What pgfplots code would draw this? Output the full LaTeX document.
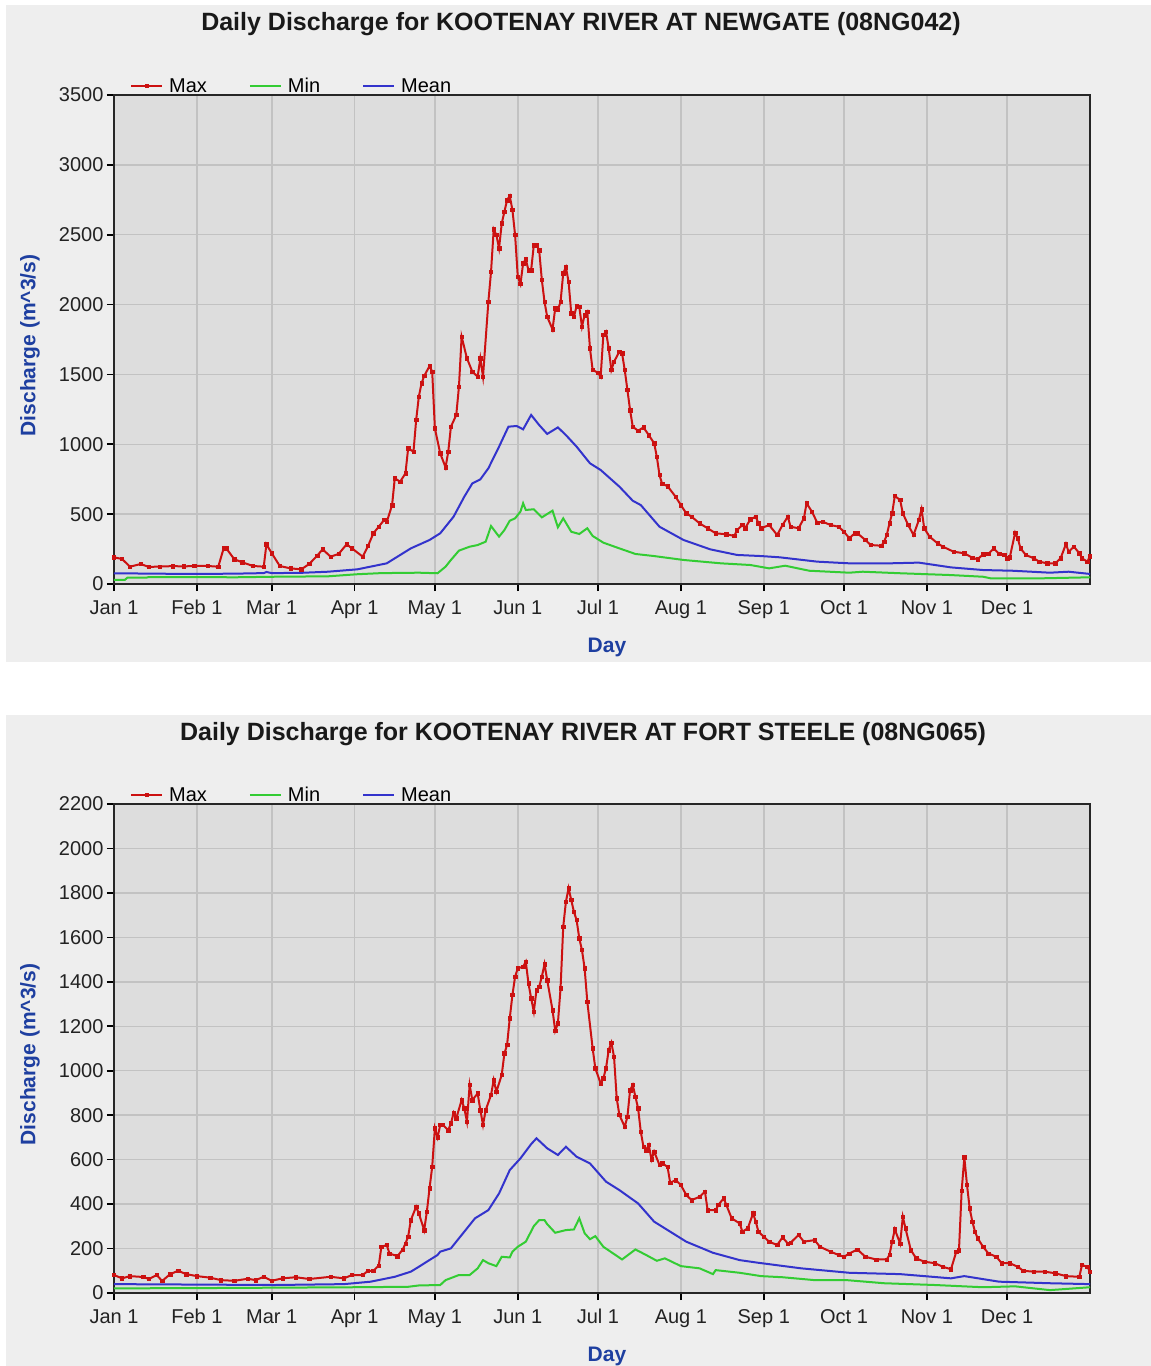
\documentclass[border=0pt]{standalone}
\usepackage{pgfplots}
\pgfplotsset{compat=1.18}
\usepackage{fontspec}
\setmainfont{Liberation Sans}
\definecolor{panelbg}{HTML}{EEEEEE}
\definecolor{plotbg}{HTML}{DDDDDD}
\definecolor{gridc}{HTML}{C2C2C2}
\definecolor{cmax}{HTML}{CC1111}
\definecolor{cmin}{HTML}{33CC33}
\definecolor{cmean}{HTML}{3333CC}
\definecolor{lblue}{HTML}{1E3FA0}
\definecolor{tickc}{HTML}{222222}

\pgfplotsset{
  kootstyle/.style={
    scale only axis, width=976pt, height=489pt,
    anchor=south west,
    xmin=0, xmax=365, ymin=0,
    xtick={0,31,59,90,120,151,181,212,243,273,304,334},
    xticklabels={Jan 1,Feb 1,Mar 1,Apr 1,May 1,Jun 1,Jul 1,Aug 1,Sep 1,Oct 1,Nov 1,Dec 1},
    tick pos=left, tick align=outside, major tick length=7pt,
    tick style={black, line width=1.6pt},
    grid=major, grid style={gridc, line width=1.5pt},
    axis background/.style={fill=plotbg},
    axis line style={black!85, line width=2pt},
    ticklabel style={font=\fontsize{20}{20}\selectfont, text=tickc},
    xticklabel style={yshift=-5pt, text height=15pt, text depth=4pt},
    /pgf/number format/assume math mode=true,
    /pgf/number format/1000 sep={},
    xlabel={Day}, ylabel={Discharge (m\textasciicircum 3/s)},
    every axis x label/.style={at={([xshift=5pt,yshift=-63pt]rel axis cs:0.5,0)}, anchor=center, font=\bfseries\fontsize{21}{21}\selectfont, text=lblue},
    every axis y label/.style={at={([xshift=-84pt,yshift=-6pt]rel axis cs:0,0.5)}, rotate=90, anchor=center, font=\bfseries\fontsize{21}{21}\selectfont, text=lblue},
    legend columns=-1,
    legend image code/.code={\draw[mark repeat=2,mark phase=2,#1] plot coordinates {(0pt,0pt) (15.5pt,0pt) (31pt,0pt)};},
    legend style={draw=none, fill=none, at={(rel axis cs:0,1)}, anchor=south west, xshift=16pt, yshift=1pt,
      font=\fontsize{20}{20}\selectfont, inner sep=0pt,
      nodes={inner xsep=6pt, inner ysep=1pt, text depth=0pt},
      /tikz/every even column/.append style={column sep=36pt}},
    maxst/.style={cmax, line width=2pt, mark=square*, mark size=1.7pt, mark options={fill=cmax, draw=cmax, line width=0.5pt}},
    minst/.style={cmin, line width=2pt, mark=none},
    meanst/.style={cmean, line width=2pt, mark=none},
  }
}

\begin{document}
\begin{tikzpicture}
\useasboundingbox (0pt,0pt) rectangle (1151pt,-1366pt);
\fill[white] (0pt,0pt) rectangle (1151pt,-1366pt);
\fill[panelbg] (6pt,-5pt) rectangle (1151pt,-662pt);
\fill[panelbg] (6pt,-715pt) rectangle (1151pt,-1366pt);
\node[font=\bfseries\fontsize{25}{25}\selectfont, text=black!90] at (581pt,-24pt) {Daily Discharge for KOOTENAY RIVER AT NEWGATE (08NG042)};
\node[font=\bfseries\fontsize{25}{25}\selectfont, text=black!90] at (583pt,-734pt) {Daily Discharge for KOOTENAY RIVER AT FORT STEELE (08NG065)};

% ---------------- top panel ----------------
\begin{axis}[kootstyle, at={(114pt,-584pt)}, ymax=3500, ytick={0,500,...,3500}]
\addplot[maxst] coordinates {
(0,191)(3,179)(6,124)(10,143)(13,122)(17,125)(22,128)(26,126)(30,129)(35,129)(39,124)(41,255)(42,255)(45,177)(48,155)(52,129)(56,124)(57,284)(59,220)(62,129)(66,112)(70,105)(73,143)(76,203)(78,248)(81,196)(84,215)(87,284)(89,255)(93,196)(95,272)(97,363)(99,410)(101,458)(102,444)(104,565)(105,757)(107,732)(109,792)(110,971)(112,947)(113,1174)(114,1341)(115,1436)(116,1489)(118,1560)(119,1520)(120,1114)(122,935)(124,835)(125,947)(126,1126)(128,1210)(129,1412)(130,1770)(132,1615)(134,1520)(136,1484)(137,1615)(138,1484)(140,2020)(141,2235)(142,2538)(143,2498)(144,2402)(145,2581)(146,2665)(147,2748)(148,2777)(149,2677)(150,2498)(151,2199)(152,2147)(153,2295)(154,2324)(155,2247)(156,2247)(157,2426)(158,2426)(159,2390)(160,2176)(161,2020)(162,1913)(164,1823)(165,1973)(166,1961)(167,2020)(168,2224)(169,2267)(170,2164)(171,1937)(172,1913)(173,1990)(174,1985)(175,1842)(176,1925)(177,1949)(178,1687)(179,1532)(181,1512)(182,1484)(183,1782)(184,1806)(185,1687)(186,1532)(187,1591)(189,1663)(190,1651)(191,1532)(192,1389)(193,1245)(194,1126)(196,1097)(198,1121)(200,1066)(202,1007)(203,911)(204,780)(205,716)(207,701)(210,625)(212,565)(214,506)(216,482)(219,434)(222,399)(225,363)(229,356)(232,344)(233,386)(235,422)(236,399)(238,463)(240,482)(241,434)(242,399)(245,422)(248,351)(250,422)(252,482)(253,410)(256,399)(258,470)(259,578)(261,518)(263,439)(265,446)(268,422)(271,410)(273,374)(275,327)(277,363)(278,363)(281,315)(283,279)(287,274)(288,303)(289,351)(290,434)(291,506)(292,630)(294,601)(295,506)(297,422)(299,351)(301,458)(302,535)(303,399)(305,339)(308,291)(310,267)(314,231)(318,220)(321,188)(323,177)(325,213)(327,215)(329,255)(331,215)(333,208)(334,184)(335,191)(337,367)(338,327)(339,255)(341,208)(344,184)(346,160)(349,148)(352,148)(354,184)(356,286)(357,231)(359,267)(361,220)(362,184)(364,160)(365,200)
};
\addlegendentry{Max}
\addplot[minst] coordinates {
(0,29)(4,29)(5,45)(12,45)(13,50)(30,50)(45,48)(60,52)(80,55)(91,70)(100,78)(110,80)(114,81)(121,77)(124,124)(126,172)(129,239)(133,267)(136,279)(139,303)(141,415)(144,339)(146,386)(148,453)(150,470)(152,518)(153,578)(154,530)(157,535)(160,477)(162,501)(164,525)(166,406)(168,470)(171,374)(174,358)(177,399)(179,344)(183,296)(189,255)(195,215)(202,200)(213,172)(227,148)(238,136)(245,112)(251,131)(260,95)(275,81)(280,88)(294,77)(313,64)(325,52)(328,40)(345,40)(365,48)
};
\addlegendentry{Min}
\addplot[meanst] coordinates {
(0,77)(15,74)(30,72)(45,74)(56,78)(57,86)(59,78)(70,80)(80,88)(91,105)(102,148)(111,255)(118,315)(122,363)(127,482)(131,625)(134,720)(137,749)(140,828)(144,983)(147.5,1126)(150.6,1131)(153,1107)(156,1210)(159,1138)(162,1074)(166,1121)(169,1066)(173,983)(178,864)(182,816)(189,697)(194,596)(197,565)(204,410)(213,315)(223,248)(233,208)(242,200)(249,191)(263,160)(275,148)(290,148)(301,153)(313,119)(325,100)(336,95)(350,81)(357,88)(365,72)
};
\addlegendentry{Mean}
\end{axis}

% ---------------- bottom panel ----------------
\begin{axis}[kootstyle, at={(114pt,-1293pt)}, ymax=2200, ytick={0,200,...,2200}]
\addplot[maxst] coordinates {
(0,81)(3,66)(6,76)(11,72)(13,63)(16,81)(18,54)(21,85)(24,100)(27,85)(31,76)(36,69)(40,58)(45,55)(50,64)(53,58)(56,73)(59,55)(63,66)(68,71)(73,63)(81,73)(86,66)(89,81)(93,81)(95,100)(97,100)(99,123)(100,208)(102,216)(103,178)(106,166)(108,196)(109,223)(110,253)(111,328)(113,388)(114,358)(116,283)(117,366)(118,471)(119,568)(120,741)(121,700)(122,756)(123,756)(125,733)(126,763)(127,811)(128,786)(130,868)(131,831)(132,771)(133,936)(134,868)(136,898)(137,823)(138,756)(139,823)(141,891)(142,958)(143,906)(145,981)(146,1078)(147,1116)(148,1236)(149,1341)(150,1423)(151,1461)(153,1468)(154,1491)(155,1393)(156,1326)(157,1266)(158,1363)(159,1378)(160,1423)(161,1480)(162,1408)(164,1273)(165,1180)(166,1213)(167,1371)(168,1648)(169,1760)(170,1821)(171,1768)(172,1715)(173,1678)(174,1596)(175,1543)(176,1461)(177,1311)(179,1101)(180,1011)(182,943)(183,966)(184,1011)(185,1093)(186,1126)(187,1063)(188,876)(189,801)(191,748)(192,793)(193,913)(194,936)(195,883)(196,831)(197,726)(198,658)(199,643)(200,666)(201,601)(202,636)(204,576)(205,583)(207,568)(208,496)(210,508)(212,486)(214,441)(216,418)(219,433)(221,456)(222,373)(225,373)(226,396)(228,426)(229,396)(231,336)(234,313)(235,276)(237,291)(239,358)(240,321)(241,276)(243,253)(245,231)(248,216)(250,250)(252,223)(253,226)(256,261)(258,231)(262,238)(264,208)(268,186)(271,171)(273,163)(275,178)(278,196)(281,163)(285,151)(289,151)(290,171)(291,231)(292,286)(294,223)(295,343)(296,291)(298,193)(300,156)(303,141)(307,134)(310,118)(313,107)(315,186)(316,193)(317,460)(318,610)(319,486)(320,381)(321,321)(322,276)(323,246)(325,208)(327,178)(330,163)(332,134)(335,134)(338,118)(340,100)(344,96)(348,96)(352,89)(356,76)(361,73)(362,126)(364,118)(365,96)
};
\addlegendentry{Max}
\addplot[minst] coordinates {
(0,21)(30,22)(60,24)(90,26)(110,28)(114,34)(122,36)(124,58)(129,81)(133,81)(136,111)(138,148)(140,134)(143,121)(145,163)(148,160)(149,186)(151,208)(154,231)(157,301)(159,328)(161,328)(162,310)(165,271)(169,283)(172,286)(174,336)(176,269)(178,242)(180,256)(183,208)(190,151)(195,196)(199,171)(203,145)(206,156)(212,121)(219,111)(224,85)(225,103)(234,91)(242,76)(250,71)(262,58)(274,58)(288,44)(307,36)(325,26)(337,30)(350,13)(365,26)
};
\addlegendentry{Min}
\addplot[meanst] coordinates {
(0,40)(30,38)(60,36)(86,40)(96,51)(105,73)(111,96)(114,118)(117,141)(121,171)(122,186)(126,201)(131,276)(135,336)(140,373)(144,448)(148,553)(152,606)(156,670)(158,696)(162,651)(166,621)(169,658)(173,613)(178,583)(184,501)(189,463)(196,403)(202,321)(208,276)(214,231)(224,181)(234,148)(241,136)(257,111)(275,91)(294,85)(313,66)(318,76)(331,51)(350,44)(365,40)
};
\addlegendentry{Mean}
\end{axis}
\end{tikzpicture}
\end{document}
